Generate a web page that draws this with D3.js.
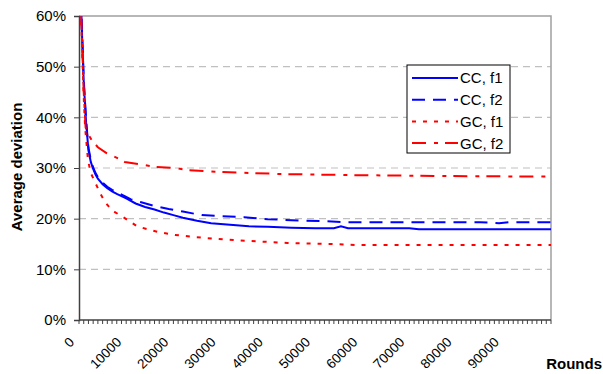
<!DOCTYPE html>
<html><head><meta charset="utf-8">
<script src="https://cdn.jsdelivr.net/npm/d3@7"></script>
<style>body{margin:0;background:#fff}svg{display:block;font-family:"Liberation Sans",Arial,sans-serif}</style>
</head><body><svg id="c" width="603" height="374"></svg>
<script>
const rounds_cc1 = [0,500,1000,1500,2000,2500,3000,3500,4000,5000,6000,7000,8000,10000,12000,14000,16000,18000,20000,22000,25000,28000,32000,36000,40000,45000,50000,54000,55500,57000,65000,70000,72000,80000,90000,100000];
const cc_f1      = [75,60,47,39,33.5,31.2,29.8,28.7,27.9,26.8,26,25.4,24.9,24,23,22.3,21.8,21.2,20.7,20.2,19.6,19.1,18.8,18.5,18.4,18.2,18.1,18.1,18.5,18.1,18.1,18.1,17.9,17.9,17.9,17.9];
const rounds_cc2 = [0,500,1000,1500,2000,2500,3000,3500,4000,5000,6000,7000,8000,10000,11000,13000,16000,19000,22000,26000,30000,35000,40000,45000,52000,57000,70000,85000,89000,91000,100000];
const cc_f2      = [76,61,47.5,39.5,34,31.6,30.1,29,28.2,27.1,26.3,25.7,25.2,24.3,23.8,23.3,22.5,21.9,21.4,20.7,20.5,20.3,19.9,19.7,19.5,19.3,19.3,19.3,19.1,19.3,19.3];
const rounds_gc1 = [0,500,1000,1300,1900,2500,3400,4500,5500,6500,7600,9700,12300,14600,16700,20300,24200,29200,36200,44100,53800,58900,70000,85000,100000];
const gc_f1      = [72,58,44,38,31.6,29,27.2,25,23.3,22.2,21.3,20.1,18.5,17.9,17.4,16.8,16.4,16,15.6,15.2,15,14.8,14.8,14.8,14.8];
const rounds_gc2 = [0,500,1000,1400,2000,2700,4000,5900,8300,9700,12500,16100,20300,22900,29900,36900,43200,57400,78600,100000];
const gc_f2      = [73,59,45,38,36.6,35.5,34.1,32.9,31.9,31.2,30.8,30.2,30,29.6,29.2,29,28.8,28.6,28.4,28.3];
const yTicks = [0,10,20,30,40,50,60];
const xLabels = [0,10000,20000,30000,40000,50000,60000,70000,80000,90000];
const seriesNames = ["CC, f1","CC, f2","GC, f1","GC, f2"];

const svg = d3.select("#c");
const L=79, R=551, T=16, B=320;
const FS = 15;
const x = d3.scaleLinear().domain([0,100000]).range([L,R]);
const y = d3.scaleLinear().domain([0,60]).range([B,T]);

// gridlines
svg.append("g").selectAll("line").data(yTicks.filter(d=>d>0&&d<60)).join("line")
  .attr("x1",L).attr("x2",R).attr("y1",d=>y(d)).attr("y2",d=>y(d))
  .attr("stroke","#c0c0c0").attr("stroke-width",1.2).attr("stroke-dasharray","7,5");
// plot border top/right
svg.append("path").attr("d",`M${L},${y(60)}H${R}V${B}`).attr("fill","none").attr("stroke","#a0a0a0").attr("stroke-width",1.5);

// y axis
const yAxis = d3.axisLeft(y).tickValues(yTicks).tickFormat(d=>d+"%").tickSize(5).tickPadding(8);
const gy = svg.append("g").attr("transform",`translate(${L},0)`).call(yAxis);
gy.select(".domain").attr("stroke","#404040").attr("stroke-width",1.5);
gy.selectAll(".tick line").attr("stroke","#404040");
gy.selectAll("text").attr("font-size",FS).attr("fill","#000").attr("font-family","Liberation Sans, Arial");

// x axis minor ticks
const gx = svg.append("g").attr("transform",`translate(0,${B})`);
gx.append("line").attr("x1",L).attr("x2",R).attr("stroke","#404040").attr("stroke-width",1.5);
gx.selectAll("line.t").data(d3.range(0,100001,1000)).join("line").attr("class","t")
  .attr("x1",d=>x(d)).attr("x2",d=>x(d)).attr("y1",0).attr("y2",4).attr("stroke","#404040");
gx.selectAll("text").data(xLabels).join("text")
  .attr("transform",d=>`translate(${x(d)-4},${23}) rotate(-45)`)
  .attr("text-anchor","end").attr("font-size",13.5).text(d=>d);

// clip
svg.append("clipPath").attr("id","clp").append("rect").attr("x",L).attr("y",T).attr("width",R-L).attr("height",B-T);
const line = d3.line().x(d=>x(d[0])).y(d=>y(d[1]));
const series = [
  {name:seriesNames[0], xs:rounds_cc1, ys:cc_f1, color:"#0000ff", dash:null},
  {name:seriesNames[1], xs:rounds_cc2, ys:cc_f2, color:"#0000ff", dash:"13,8"},
  {name:seriesNames[2], xs:rounds_gc1, ys:gc_f1, color:"#ff0000", dash:"4,7"},
  {name:seriesNames[3], xs:rounds_gc2, ys:gc_f2, color:"#ff0000", dash:"14,8,4,7"}
];
const gl = svg.append("g").attr("clip-path","url(#clp)");
series.forEach(s=>{
  gl.append("path").datum(s.xs.map((v,i)=>[v,s.ys[i]])).attr("d",line)
    .attr("fill","none").attr("stroke",s.color).attr("stroke-width",2)
    .attr("stroke-dasharray",s.dash);
});

// legend
const lg = svg.append("g");
lg.append("rect").attr("x",407).attr("y",65).attr("width",103).attr("height",88)
  .attr("fill","#fff").attr("stroke","#000").attr("stroke-width",1);
series.forEach((s,i)=>{
  const yy = 78 + i*21.7;
  lg.append("line").attr("x1",412).attr("x2",458).attr("y1",yy).attr("y2",yy)
    .attr("stroke",s.color).attr("stroke-width",2).attr("stroke-dasharray",s.dash);
  lg.append("text").attr("x",460).attr("y",yy).attr("dy","0.36em").attr("font-size",FS).text(s.name);
});

// axis titles
svg.append("text").attr("transform","translate(22,167) rotate(-90)").attr("text-anchor","middle")
  .attr("font-weight","bold").attr("font-size",FS).text("Average deviation");
svg.append("text").attr("x",602).attr("y",369).attr("text-anchor","end")
  .attr("font-weight","bold").attr("font-size",FS).text("Rounds");
</script></body></html>
